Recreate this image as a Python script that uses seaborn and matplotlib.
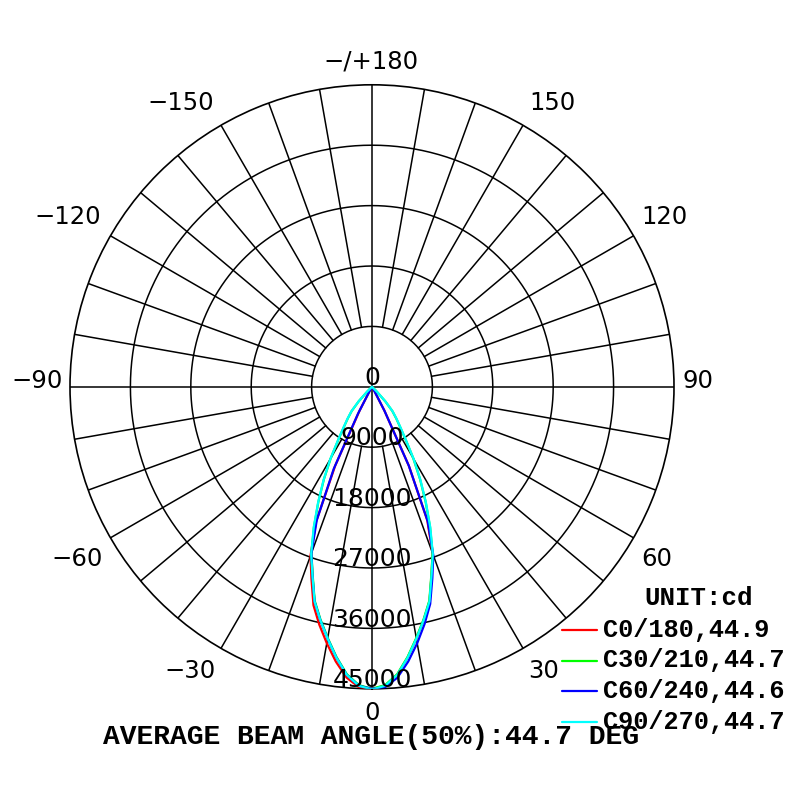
import numpy as np
import pandas as pd
import seaborn as sns
import matplotlib.pyplot as plt
from matplotlib.lines import Line2D

# gamma angles (deg) for one half of each C-plane
gamma = [0, 2.5, 5, 7.5, 10, 12.5, 15, 17.5, 20, 22.5, 25, 27.5, 30, 32.5, 35, 37.5, 40, 42.5, 45, 47.5, 50]

# intensity (cd), right half = C0/C30/C60/C90, left half = C180/C210/C240/C270
c0_right = [45000, 44600, 43100, 40700, 38100, 35600, 33100, 29500, 26400, 21500, 13000, 4000, 500, 0, 0, 0, 0, 0, 0, 0, 0]
c0_left = [45000, 44800, 43500, 41300, 38800, 36300, 33700, 30000, 26800, 21800, 13000, 4000, 500, 0, 0, 0, 0, 0, 0, 0, 0]
c30_right = [45000, 44500, 43000, 40600, 38000, 35500, 33000, 29400, 26400, 22600, 18900, 15500, 12300, 9300, 7300, 5900, 4700, 2900, 900, 0, 0]
c30_left = [45000, 44500, 43000, 40600, 38000, 35500, 33000, 29400, 26400, 22600, 18900, 15500, 12300, 9300, 7300, 5900, 4700, 2900, 900, 0, 0]
c60_right = [45000, 44800, 43500, 41300, 38800, 36200, 33500, 29900, 26700, 21700, 13000, 4000, 500, 0, 0, 0, 0, 0, 0, 0, 0]
c60_left = [45000, 44600, 43100, 40700, 38100, 35600, 33100, 29500, 26400, 21500, 13500, 4500, 600, 0, 0, 0, 0, 0, 0, 0, 0]
c90_right = [45100, 44600, 43100, 40700, 38100, 35600, 33100, 29500, 26500, 22700, 19000, 15600, 12400, 9400, 7400, 6000, 4800, 3000, 1000, 0, 0]
c90_left = [45100, 44600, 43100, 40700, 38100, 35600, 33100, 29500, 26500, 22700, 19000, 15600, 12400, 9400, 7400, 6000, 4800, 3000, 1000, 0, 0]

series_names = ['C0/180,44.9', 'C30/210,44.7', 'C60/240,44.6', 'C90/270,44.7']
series_colors = ['#ff0000', '#00ff00', '#0000ff', '#00ffff']
halves = [(c0_left, c0_right), (c30_left, c30_right), (c60_left, c60_right), (c90_left, c90_right)]

ring_values = [9000, 18000, 27000, 36000, 45000]

# angle labels and their centre positions in pixels (800x800 canvas)
angle_labels = ['0', '30', '60', '90', '120', '150', '\u2212/+180', '\u2212150', '\u2212120', '\u221290', '\u221260', '\u221230']
angle_px = [(372, 711), (544, 670), (657, 557), (698, 380), (664, 215), (552, 102),
            (371, 60), (181, 102), (68, 215), (37, 380), (77, 557), (190, 670)]

# build long table
rows = []
for name, (left, right) in zip(series_names, halves):
    th = [-g for g in gamma[::-1]] + gamma[1:]
    rr = left[::-1] + right[1:]
    for t, r in zip(th, rr):
        rows.append({'theta': np.deg2rad(t), 'cd': r, 'series': name})
df = pd.DataFrame(rows)

sns.set_style('white')
plt.rcParams['font.family'] = ['DejaVu Sans']
plt.rcParams['text.color'] = 'black'

fig = plt.figure(figsize=(8, 8), dpi=100)
ax = fig.add_axes([0.0875, 0.139, 0.755, 0.755], projection='polar')
ax.set_theta_zero_location('S')
ax.set_theta_direction(1)

# grid: rings and spokes
circ = np.linspace(0, 2 * np.pi, 361)
for rv in ring_values[:-1]:
    ax.plot(circ, np.full_like(circ, rv), color='black', lw=1.1, zorder=1)
for a in range(0, 360, 10):
    t = np.deg2rad(a)
    r0 = 0 if a % 90 == 0 else ring_values[0]
    ax.plot([t, t], [r0, ring_values[-1]], color='black', lw=1.1, zorder=1)

sns.lineplot(data=df, x='theta', y='cd', hue='series', palette=dict(zip(series_names, series_colors)),
             sort=False, estimator=None, legend=False, lw=1.6, ax=ax, zorder=3)

ax.set_ylim(0, 45000)
ax.grid(False)
ax.set_xticks([])
ax.set_yticks([])
ax.set_xlabel('')
ax.set_ylabel('')
ax.spines['polar'].set_color('black')
ax.spines['polar'].set_linewidth(1.2)

# radial labels, sitting just above each ring
for rv in [0] + ring_values:
    ax.annotate(str(rv), xy=(0, rv), xytext=(0, 1.3), textcoords='offset points',
                ha='center', va='baseline', fontsize=18, color='black', zorder=4)

# angle labels
for lab, (px, py) in zip(angle_labels, angle_px):
    fig.text(px / 800, 1 - (py + 8.5) / 800, lab, ha='center', va='baseline', fontsize=17.5)

# legend
mono = 'Liberation Mono'
fig.text(699 / 800, 1 - 598 / 800, 'UNIT:cd', family=mono, weight='bold',
         fontsize=18.5, ha='center', va='center')
for i, (name, col) in enumerate(zip(series_names, series_colors)):
    y = 1 - (630 + i * 30.5) / 800
    fig.add_artist(Line2D([562 / 800, 597 / 800], [y, y], transform=fig.transFigure, color=col, lw=1.6))
    fig.text(603 / 800, y, name, family=mono, weight='bold', fontsize=18.2,
             ha='left', va='center')

fig.text(371 / 800, 1 - 744 / 800, 'AVERAGE BEAM ANGLE(50%):44.7 DEG', family=mono,
         weight='bold', fontsize=20.2, ha='center', va='baseline')

fig.savefig('out.png', dpi=100, facecolor='white')
